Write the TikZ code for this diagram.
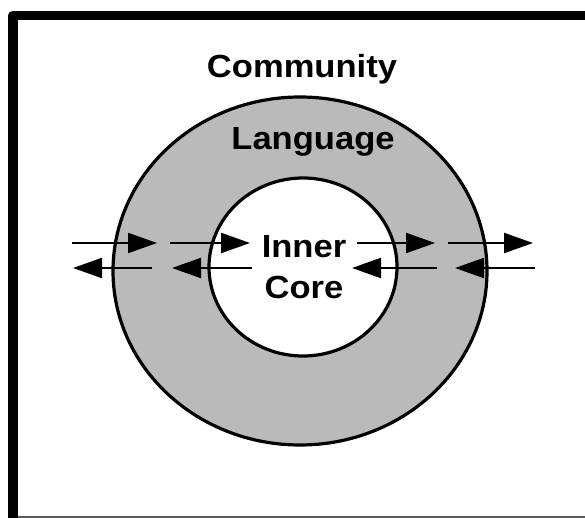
\documentclass[tikz,border=0pt]{standalone}
\usepackage{fontspec}
\setmainfont{Liberation Sans}[FakeStretch=1.08]
\usetikzlibrary{arrows.meta,shapes.geometric}
\definecolor{ringgray}{RGB}{186,186,186}
\tikzset{
  arr/.style={line width=2.2pt, -{Triangle[length=29pt,width=20pt]}},
  ring/.style={ellipse, draw=black, line width=3.2pt, inner sep=0pt},
  lbl/.style={anchor=base, inner sep=0pt, font=\fontsize{32pt}{38pt}\selectfont\bfseries}
}
\begin{document}
\begin{tikzpicture}[x=1pt,y=-1pt]
\useasboundingbox (0,0) rectangle (585,518);
% frame
\draw[line width=9.5pt, line join=round] (13,518) -- (13,15.5) -- (585,15.5);
\draw[line width=1.5pt, black!65] (18,517) -- (585,517);
% rings
\node[ring, fill=ringgray, minimum width=374pt, minimum height=348pt] (outer) at (300,271) {};
\node[ring, fill=white, minimum width=188pt, minimum height=178pt] (inner) at (303,267) {};
% labels
\node[lbl] (community) at (302,78) {Community};
\node[lbl] (language) at (313,150) {Language};
\node[lbl] (innerl) at (304,258) {Inner};
\node[lbl] (core) at (304,298) {Core};
% arrow coordinates
\coordinate (a1) at (72,243);  \coordinate (a2) at (157,243);
\coordinate (b1) at (170,243); \coordinate (b2) at (250,243);
\coordinate (c1) at (357,243); \coordinate (c2) at (435,243);
\coordinate (d1) at (448,243); \coordinate (d2) at (533,243);
\coordinate (e1) at (152,268); \coordinate (e2) at (73,268);
\coordinate (f1) at (252,268); \coordinate (f2) at (172,268);
\coordinate (g1) at (437,268); \coordinate (g2) at (352,268);
\coordinate (h1) at (535,268); \coordinate (h2) at (455,268);
\draw[arr] (a1) -- (a2);
\draw[arr] (b1) -- (b2);
\draw[arr] (c1) -- (c2);
\draw[arr] (d1) -- (d2);
\draw[arr] (e1) -- (e2);
\draw[arr] (f1) -- (f2);
\draw[arr] (g1) -- (g2);
\draw[arr] (h1) -- (h2);
\end{tikzpicture}
\end{document}
